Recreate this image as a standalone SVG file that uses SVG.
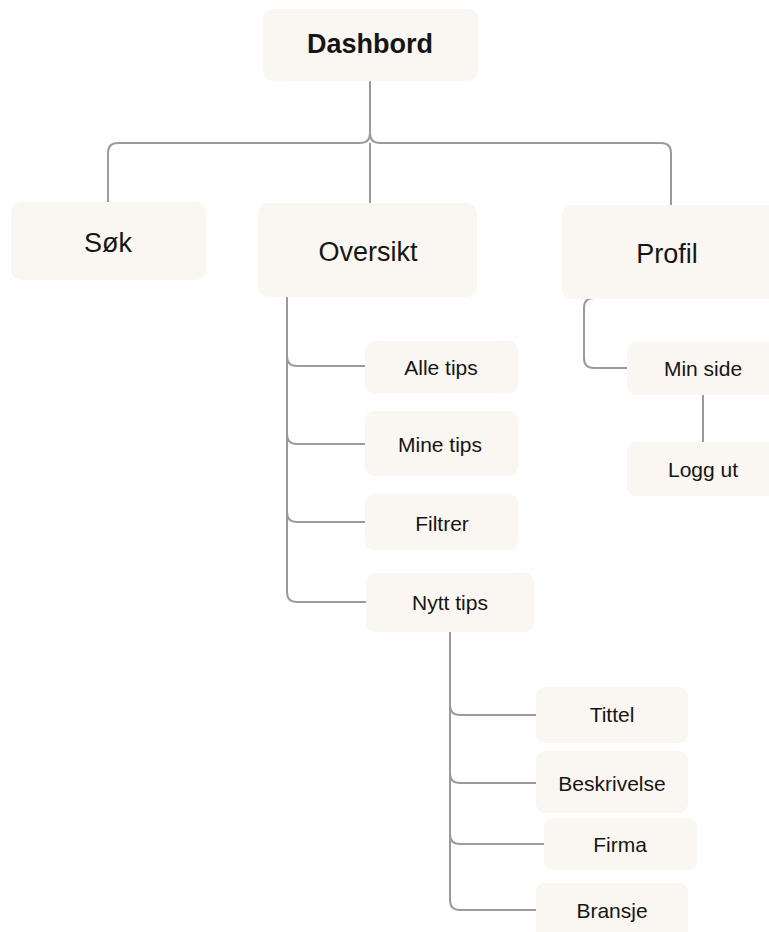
<svg xmlns="http://www.w3.org/2000/svg" width="769" height="932" viewBox="0 0 769 932">
<style>
.box{fill:#faf7f2}
.ln{fill:none;stroke:#9b9b9b;stroke-width:2}
text{font-family:"Liberation Sans",Arial,sans-serif;fill:#151515;text-anchor:middle}
.t1{font-size:27px;font-weight:bold}
.t2{font-size:27px}
.t3{font-size:21px}
</style>
<rect width="769" height="932" fill="#ffffff"/>
<g id="connectors">
<path class="ln" d="M370,81 V133 Q370,143 360,143 H118 Q108,143 108,153 V202"/>
<path class="ln" d="M370,133 Q370,143 380,143 H661 Q671,143 671,153 V205"/>
<path class="ln" d="M370,143 V203"/>
<path class="ln" d="M287,297 V592 Q287,602 297,602 H366"/>
<path class="ln" d="M287,356 Q287,366 297,366 H365"/>
<path class="ln" d="M287,434 Q287,444 297,444 H365"/>
<path class="ln" d="M287,512 Q287,522 297,522 H365"/>
<path class="ln" d="M700,298 H594 Q584,298 584,308 V358 Q584,368 594,368 H627"/>
<path class="ln" d="M703,395 V442"/>
<path class="ln" d="M450,632 V900 Q450,910 460,910 H536"/>
<path class="ln" d="M450,705 Q450,715 460,715 H536"/>
<path class="ln" d="M450,773 Q450,783 460,783 H536"/>
<path class="ln" d="M450,834 Q450,844 460,844 H544"/>
</g>
<g id="dashbord"><rect class="box" x="263" y="9" width="215" height="72" rx="10"/><text class="t1" x="370" y="53">Dashbord</text></g>
<g id="sok"><rect class="box" x="11" y="202" width="195" height="78" rx="10"/><text class="t2" x="108" y="252">Søk</text></g>
<g id="oversikt"><rect class="box" x="258" y="203" width="219" height="94" rx="10"/><text class="t2" x="368" y="261">Oversikt</text></g>
<g id="profil"><rect class="box" x="562" y="205" width="217" height="94" rx="10"/><text class="t2" x="667" y="263">Profil</text></g>
<g id="min-side"><rect class="box" x="627" y="342" width="152" height="53" rx="9"/><text class="t3" x="703" y="376">Min side</text></g>
<g id="logg-ut"><rect class="box" x="627" y="442" width="152" height="54" rx="9"/><text class="t3" x="703" y="477">Logg ut</text></g>
<g id="alle-tips"><rect class="box" x="365" y="341" width="153" height="52" rx="9"/><text class="t3" x="441" y="375">Alle tips</text></g>
<g id="mine-tips"><rect class="box" x="365" y="411" width="153" height="65" rx="9"/><text class="t3" x="440" y="452">Mine tips</text></g>
<g id="filtrer"><rect class="box" x="365" y="494" width="153" height="56" rx="9"/><text class="t3" x="442" y="531">Filtrer</text></g>
<g id="nytt-tips"><rect class="box" x="366" y="573" width="168" height="59" rx="9"/><text class="t3" x="450" y="610">Nytt tips</text></g>
<g id="tittel"><rect class="box" x="536" y="687" width="152" height="56" rx="9"/><text class="t3" x="612" y="722">Tittel</text></g>
<g id="beskrivelse"><rect class="box" x="536" y="751" width="152" height="62" rx="9"/><text class="t3" x="612" y="791">Beskrivelse</text></g>
<g id="firma"><rect class="box" x="544" y="818" width="153" height="52" rx="9"/><text class="t3" x="620" y="852">Firma</text></g>
<g id="bransje"><rect class="box" x="536" y="883" width="152" height="60" rx="9"/><text class="t3" x="612" y="918">Bransje</text></g>
</svg>
